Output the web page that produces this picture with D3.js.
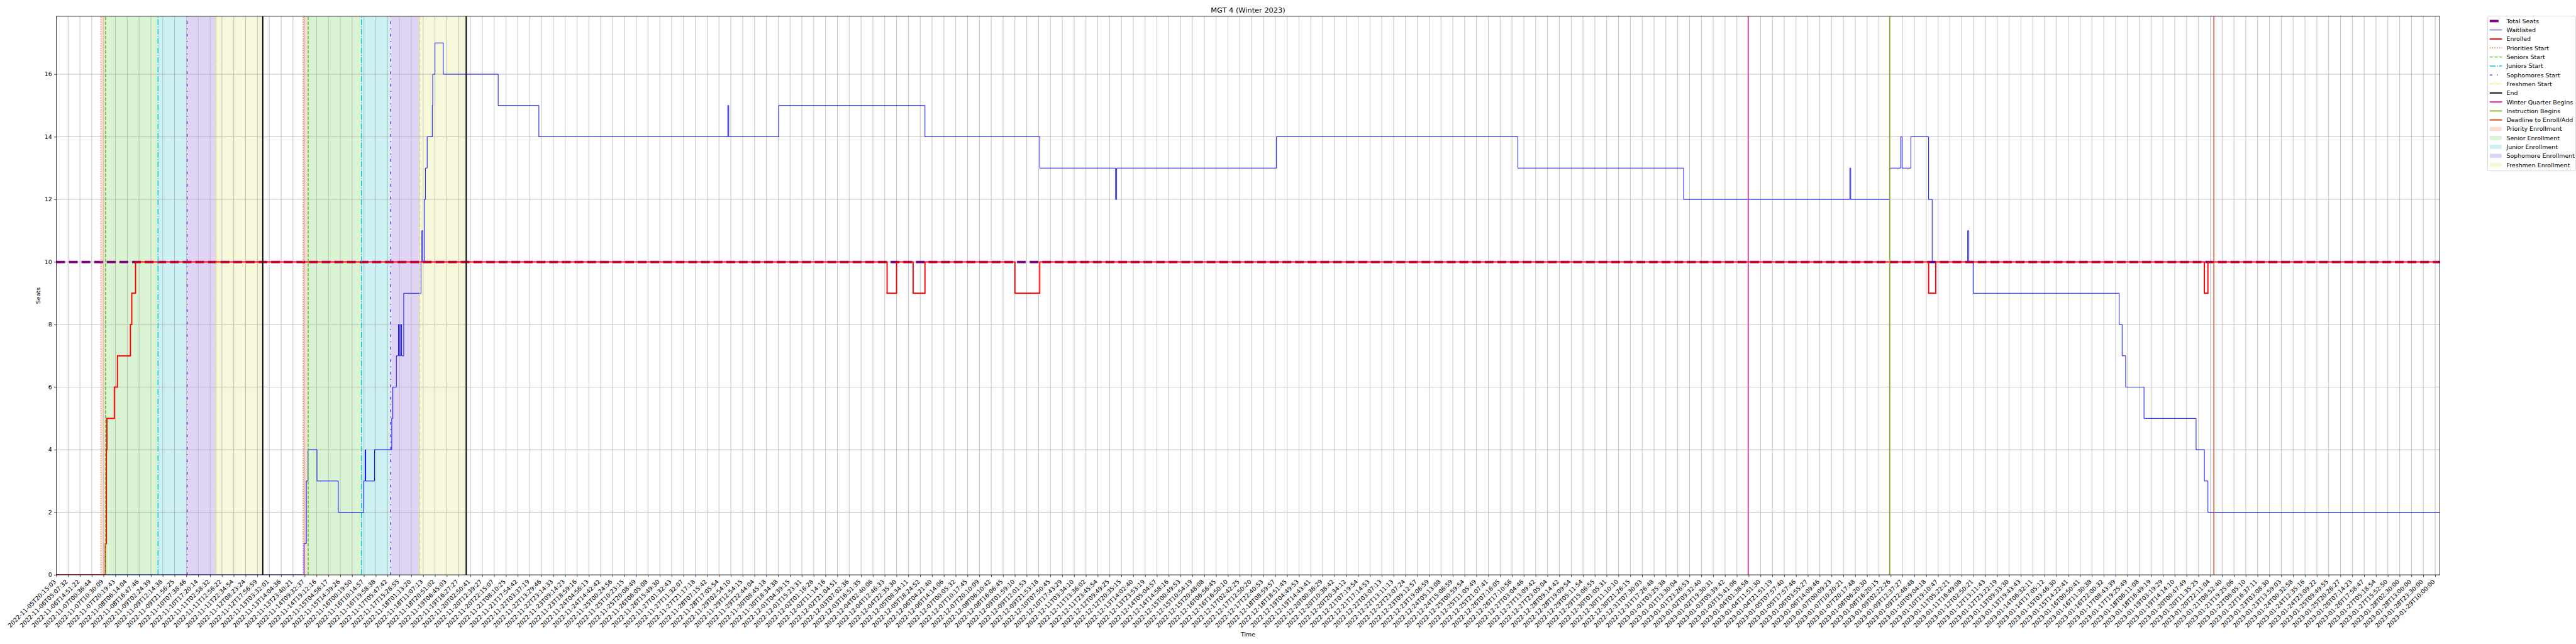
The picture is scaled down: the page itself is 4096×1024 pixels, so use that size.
<!DOCTYPE html>
<html><head><meta charset="utf-8">
<script src="https://cdn.jsdelivr.net/npm/d3@7"></script>
<style>
html,body{margin:0;padding:0;background:#fff;}
svg{display:block;}
text{font-family:"DejaVu Sans",sans-serif;fill:#000;}
</style></head>
<body>
<script>
// ---------------- DATA ----------------
const chartTitle = "MGT 4 (Winter 2023)";
const tickLabels = [
"2022-11-05T20:15:03","2022-11-06T05:07:32","2022-11-06T14:51:22","2022-11-07T00:36:44","2022-11-07T10:30:09",
"2022-11-07T20:19:43","2022-11-08T06:14:04","2022-11-08T16:47:46","2022-11-09T02:24:39","2022-11-09T12:14:38",
"2022-11-09T21:56:25","2022-11-10T07:38:46","2022-11-10T17:20:14","2022-11-11T02:58:32","2022-11-11T12:56:22",
"2022-11-11T22:34:54","2022-11-12T08:23:24","2022-11-12T17:56:59","2022-11-13T03:32:01","2022-11-13T14:04:36",
"2022-11-13T23:40:21","2022-11-14T09:32:37","2022-11-14T19:12:16","2022-11-15T04:58:17","2022-11-15T14:39:26",
"2022-11-16T00:19:50","2022-11-16T10:14:57","2022-11-16T19:58:38","2022-11-17T05:47:42","2022-11-17T15:28:55",
"2022-11-18T01:13:20","2022-11-18T11:07:13","2022-11-18T20:51:02","2022-11-19T06:45:03","2022-11-19T16:27:27",
"2022-11-20T02:50:41","2022-11-20T12:39:27","2022-11-20T22:15:07","2022-11-21T08:10:25","2022-11-21T17:54:42",
"2022-11-22T03:37:19","2022-11-22T13:29:46","2022-11-22T23:14:33","2022-11-23T09:14:23","2022-11-23T18:59:16",
"2022-11-24T04:56:13","2022-11-24T14:42:42","2022-11-25T00:24:56","2022-11-25T10:23:15","2022-11-25T20:08:49",
"2022-11-26T06:05:08","2022-11-26T15:49:30","2022-11-27T01:32:43","2022-11-27T11:32:07","2022-11-27T21:17:18",
"2022-11-28T07:15:42","2022-11-28T17:05:54","2022-11-29T02:54:10","2022-11-29T12:54:15","2022-11-29T22:44:04",
"2022-11-30T08:45:18","2022-11-30T18:34:38","2022-12-01T04:39:15","2022-12-01T15:23:31","2022-12-02T01:16:28",
"2022-12-02T11:14:16","2022-12-02T21:04:51","2022-12-03T07:02:36","2022-12-03T16:51:35","2022-12-04T02:40:06",
"2022-12-04T12:46:33","2022-12-04T22:35:30","2022-12-05T08:34:11","2022-12-05T18:24:52","2022-12-06T04:21:40",
"2022-12-06T14:14:06","2022-12-07T00:05:32","2022-12-07T10:17:45","2022-12-07T20:10:09","2022-12-08T06:10:42",
"2022-12-08T16:06:45","2022-12-09T01:59:10","2022-12-09T12:01:53","2022-12-09T21:53:18","2022-12-10T07:50:45",
"2022-12-10T17:43:29","2022-12-11T03:34:10","2022-12-11T13:36:02","2022-12-11T23:45:54","2022-12-12T09:49:25",
"2022-12-12T20:35:15","2022-12-13T14:02:40","2022-12-13T23:53:19","2022-12-14T05:04:57","2022-12-14T14:58:16",
"2022-12-15T00:49:53","2022-12-15T10:54:19","2022-12-15T20:48:08","2022-12-16T06:56:45","2022-12-16T16:50:10",
"2022-12-17T02:42:25","2022-12-17T12:50:20","2022-12-17T22:40:53","2022-12-18T08:59:57","2022-12-18T18:51:45",
"2022-12-19T04:49:53","2022-12-19T14:43:41","2022-12-20T00:36:29","2022-12-20T10:38:42","2022-12-20T20:34:12",
"2022-12-21T07:19:54","2022-12-21T17:14:53","2022-12-22T03:07:13","2022-12-22T13:11:13","2022-12-22T23:07:24",
"2022-12-23T09:12:57","2022-12-23T19:06:59","2022-12-24T05:13:08","2022-12-24T15:06:59","2022-12-25T00:59:54",
"2022-12-25T11:05:49","2022-12-25T21:07:41","2022-12-26T07:16:05","2022-12-26T17:10:56","2022-12-27T03:04:46",
"2022-12-27T13:09:42","2022-12-27T23:05:04","2022-12-28T09:14:42","2022-12-28T19:09:54","2022-12-29T05:11:54",
"2022-12-29T15:06:55","2022-12-30T01:05:31","2022-12-30T11:10:10","2022-12-30T21:26:15","2022-12-31T07:30:03",
"2022-12-31T17:26:48","2023-01-01T03:25:38","2023-01-01T13:30:04","2023-01-01T23:26:53","2023-01-02T09:32:40",
"2023-01-02T19:30:31","2023-01-03T05:39:42","2023-01-03T15:41:06","2023-01-04T01:38:58","2023-01-04T11:51:30",
"2023-01-04T21:51:19","2023-01-05T07:57:40","2023-01-05T17:57:46","2023-01-06T03:55:27","2023-01-06T14:09:46",
"2023-01-07T00:09:23","2023-01-07T10:20:21","2023-01-07T20:17:48","2023-01-08T06:20:30","2023-01-08T16:20:15",
"2023-01-09T02:22:26","2023-01-09T12:37:27","2023-01-09T22:48:48","2023-01-10T09:04:18","2023-01-10T19:10:47",
"2023-01-11T05:22:21","2023-01-11T16:49:08","2023-01-12T02:50:21","2023-01-12T13:11:43","2023-01-12T23:22:19",
"2023-01-13T09:33:30","2023-01-13T19:43:43","2023-01-14T06:32:11","2023-01-14T17:05:12","2023-01-15T03:46:30",
"2023-01-15T14:22:41","2023-01-16T00:50:41","2023-01-16T11:30:38","2023-01-16T22:00:32","2023-01-17T08:43:39",
"2023-01-17T19:25:49","2023-01-18T06:11:08","2023-01-18T16:49:19","2023-01-19T03:19:29","2023-01-19T14:14:10",
"2023-01-20T00:47:49","2023-01-20T11:35:25","2023-01-20T22:11:04","2023-01-21T08:52:40","2023-01-21T19:25:06",
"2023-01-22T06:05:10","2023-01-22T16:37:11","2023-01-23T03:08:30","2023-01-23T13:59:03","2023-01-24T00:32:58",
"2023-01-24T12:35:16","2023-01-24T23:09:22","2023-01-25T09:49:55","2023-01-25T20:26:27","2023-01-26T07:14:23",
"2023-01-26T17:58:47","2023-01-27T05:18:54","2023-01-27T15:52:50","2023-01-28T02:30:00","2023-01-28T13:00:00",
"2023-01-28T23:30:00","2023-01-29T10:00:00"
];
const xEndIndex = 201.4;          // last sample position (in tick units)
const yTicks = [0,2,4,6,8,10,12,14,16];
const yMax = 17.85;

const totalSeats = 10;
// step series: [position (tick units), value]
const enrolled = [
  [0,0],[4.15,1],[4.24,4],[4.28,5],[4.91,6],[5.17,7],[6.27,8],[6.38,9],[6.70,10],
  [70.2,9],[71.0,10],[72.4,9],[73.4,10],[81.0,9],[83.1,10],
  [158.2,9],[158.8,10],[181.5,9],[181.8,10]
];
const waitlisted = [
  [0,0],[20.93,1],[21.13,3],[21.27,4],[22.03,3],[23.83,2],[25.98,3],[26.10,4],[26.15,3],
  [26.89,4],[28.35,5],[28.44,6],[28.74,7],[28.91,8],[29.0,7],[29.09,8],[29.18,7],[29.36,9],
  [30.82,10],[30.89,11],[30.96,10],[31.10,12],[31.19,13],[31.34,14],[31.77,15],[31.81,16],
  [32.0,17],[32.7,16],[37.34,15],[40.78,14],[56.74,15],[56.82,14],[61.05,15],[73.4,14],
  [83.1,13],[89.5,12],[89.6,13],[103.1,14],[123.5,13],[137.5,12],[151.55,13],[151.62,12],
  [154.9,13],[155.85,14],[155.95,13],[156.7,14],[158.2,12],[158.5,10],[161.5,11],[161.6,10],
  [161.96,9],[174.3,8],[174.55,7],[174.85,6],[176.4,5],[180.8,4],[181.5,3],[181.8,2]
];
const priorityStarts  = [3.77, 20.86];
const seniorStarts    = [4.17, 21.29];
const juniorStarts    = [8.60, 25.79];
const sophomoreStarts = [11.06, 28.26];
const freshmenStarts  = [13.52, 30.72];
const periodEnds      = [17.45, 34.64];
const winterQuarterBegins = 142.95;
const instructionBegins   = 154.9;
const enrollDeadline      = 182.3;

// ---------------- LAYOUT (reference pixel space 6000x1500) ----------------
const W = 6000, H = 1500, S = 4096/6000;
const plot = {left:131, right:5683, top:38, bottom:1339};
const PT = 100/72;  // px per point at reference dpi

const svg = d3.select("body").append("svg")
  .attr("width", 4096).attr("height", 1024);
const root = svg.append("g").attr("transform", `scale(${S})`);
root.append("rect").attr("width", W).attr("height", H).attr("fill", "#fff");

const x = d3.scaleLinear().domain([0, xEndIndex]).range([plot.left, plot.right]);
const y = d3.scaleLinear().domain([0, yMax]).range([plot.bottom, plot.top]);

root.append("clipPath").attr("id","clip").append("rect")
  .attr("x", plot.left).attr("y", plot.top)
  .attr("width", plot.right-plot.left).attr("height", plot.bottom-plot.top);

const C = {
  seats:"#800080", wait:"#0000ff", enr:"#ff0000",
  prio:"#ee6a30", senior:"#3cc81a", junior:"#00c6d4", soph:"#6a22dc", fresh:"#e0e020",
  end:"#000000", winter:"#e0189c", instr:"#8db41e", deadline:"#d0421e",
  prioFill:"#f8ddd1", seniorFill:"#daf4d3", juniorFill:"#cdf0f2", sophFill:"#e0d4f4", freshFill:"#f6f8d9"
};

const plotG = root.append("g").attr("clip-path","url(#clip)");

// spans
const spans = [
  [priorityStarts, seniorStarts, C.prioFill],
  [seniorStarts, juniorStarts, C.seniorFill],
  [juniorStarts, sophomoreStarts, C.juniorFill],
  [sophomoreStarts, freshmenStarts, C.sophFill],
  [freshmenStarts, periodEnds, C.freshFill]
];
spans.forEach(([a,b,col]) => {
  a.forEach((s,i) => {
    plotG.append("rect").attr("x", x(s)).attr("y", plot.top)
      .attr("width", x(b[i]) - x(s)).attr("height", plot.bottom-plot.top)
      .attr("fill", col);
  });
});

// grid
const gridCol = "#b0b0b0", gridW = 0.8*PT;
const tickIdx = d3.range(tickLabels.length).filter(i => i <= xEndIndex);
plotG.selectAll("line.gx").data(tickIdx).join("line")
  .attr("x1", d=>x(d)).attr("x2", d=>x(d)).attr("y1", plot.top).attr("y2", plot.bottom)
  .attr("stroke", gridCol).attr("stroke-width", gridW);
plotG.selectAll("line.gy").data(yTicks).join("line")
  .attr("x1", plot.left).attr("x2", plot.right).attr("y1", d=>y(d)).attr("y2", d=>y(d))
  .attr("stroke", gridCol).attr("stroke-width", gridW);

// series
const stepLine = d3.line().x(d=>x(d[0])).y(d=>y(d[1])).curve(d3.curveStepAfter);
const extend = arr => arr.concat([[xEndIndex, arr[arr.length-1][1]]]);

plotG.append("path").datum([[0,totalSeats],[xEndIndex,totalSeats]])
  .attr("d", stepLine).attr("fill","none").attr("stroke", C.seats)
  .attr("stroke-width", 4*PT).attr("stroke-dasharray", `${3.7*4*PT},${1.6*4*PT}`);
plotG.append("path").datum(extend(waitlisted))
  .attr("d", stepLine).attr("fill","none").attr("stroke", C.wait).attr("stroke-width", 1*PT);
plotG.append("path").datum(extend(enrolled))
  .attr("d", stepLine).attr("fill","none").attr("stroke", C.enr).attr("stroke-width", 2*PT);

// event lines
const lw15 = 1.5*PT, lw1 = 1*PT;
const styles = {
  prio:  {c:C.prio,  w:lw15, d:[1*lw15,1.65*lw15]},
  senior:{c:C.senior,w:lw15, d:[3.7*lw15,1.6*lw15]},
  junior:{c:C.junior,w:lw15, d:[6.4*lw15,1.6*lw15,1*lw15,1.6*lw15]},
  soph:  {c:C.soph,  w:lw15, d:[3*lw15,5*lw15,1*lw15,5*lw15]},
  fresh: {c:C.fresh, w:lw1,  d:[6.4*lw1,1.6*lw1,1*lw1,1.6*lw1]},
  end:   {c:C.end,   w:2*PT, d:null},
  winter:{c:C.winter,w:lw15, d:null},
  instr: {c:C.instr, w:lw15, d:null},
  deadline:{c:C.deadline,w:lw15,d:null}
};
function vline(pos, st){
  const l = plotG.append("line").attr("x1", x(pos)).attr("x2", x(pos))
    .attr("y1", plot.bottom).attr("y2", plot.top)
    .attr("stroke", st.c).attr("stroke-width", st.w);
  if (st.d) l.attr("stroke-dasharray", st.d.join(","));
}
priorityStarts.forEach(p=>vline(p, styles.prio));
seniorStarts.forEach(p=>vline(p, styles.senior));
juniorStarts.forEach(p=>vline(p, styles.junior));
sophomoreStarts.forEach(p=>vline(p, styles.soph));
freshmenStarts.forEach(p=>vline(p, styles.fresh));
periodEnds.forEach(p=>vline(p, styles.end));
vline(winterQuarterBegins, styles.winter);
vline(instructionBegins, styles.instr);
vline(enrollDeadline, styles.deadline);

// axes
const fs = 10*PT;
const xAxis = d3.axisBottom(x).tickValues(tickIdx).tickFormat(i=>tickLabels[i])
  .tickSize(3.5*PT).tickPadding(3.5*PT).tickSizeOuter(0);
const gx = root.append("g").attr("transform", `translate(0,${plot.bottom})`).call(xAxis);
gx.select(".domain").remove();
gx.selectAll(".tick line").attr("stroke","#000").attr("stroke-width",0.8*PT);
gx.selectAll(".tick text")
  .attr("font-size", fs).attr("font-family","DejaVu Sans").attr("fill","#000")
  .attr("text-anchor","end").attr("x",0).attr("y",0).attr("dy","0.35em")
  .attr("transform", `translate(-3.6,${3.5*PT+3.5*PT+3.6}) rotate(-45)`);

const yAxis = d3.axisLeft(y).tickValues(yTicks).tickFormat(d3.format("d"))
  .tickSize(3.5*PT).tickPadding(3.5*PT).tickSizeOuter(0);
const gy = root.append("g").attr("transform", `translate(${plot.left},0)`).call(yAxis);
gy.select(".domain").remove();
gy.selectAll(".tick line").attr("stroke","#000").attr("stroke-width",0.8*PT);
gy.selectAll(".tick text").attr("font-size", fs).attr("font-family","DejaVu Sans").attr("fill","#000");

// frame
root.append("rect").attr("x", plot.left).attr("y", plot.top)
  .attr("width", plot.right-plot.left).attr("height", plot.bottom-plot.top)
  .attr("fill","none").attr("stroke","#000").attr("stroke-width",0.8*PT);

// titles
root.append("text").attr("x",(plot.left+plot.right)/2).attr("y",29)
  .attr("text-anchor","middle").attr("font-size",12*PT).text(chartTitle);
root.append("text").attr("x",(plot.left+plot.right)/2).attr("y",1482)
  .attr("text-anchor","middle").attr("font-size",fs).text("Time");
root.append("text").attr("transform",`translate(94,${(plot.top+plot.bottom)/2}) rotate(-90)`)
  .attr("text-anchor","middle").attr("font-size",fs).text("Seats");

// legend
const legendItems = [
  {label:"Total Seats", type:"line", c:C.seats, w:4*PT, d:[3.7*4*PT,1.6*4*PT]},
  {label:"Waitlisted", type:"line", c:C.wait, w:1*PT},
  {label:"Enrolled", type:"line", c:C.enr, w:2*PT},
  {label:"Priorities Start", type:"line", c:C.prio, w:styles.prio.w, d:styles.prio.d},
  {label:"Seniors Start", type:"line", c:C.senior, w:styles.senior.w, d:styles.senior.d},
  {label:"Juniors Start", type:"line", c:C.junior, w:styles.junior.w, d:styles.junior.d},
  {label:"Sophomores Start", type:"line", c:C.soph, w:styles.soph.w, d:styles.soph.d},
  {label:"Freshmen Start", type:"line", c:C.fresh, w:styles.fresh.w, d:styles.fresh.d},
  {label:"End", type:"line", c:C.end, w:2*PT},
  {label:"Winter Quarter Begins", type:"line", c:C.winter, w:2*PT},
  {label:"Instruction Begins", type:"line", c:C.instr, w:2*PT},
  {label:"Deadline to Enroll/Add", type:"line", c:C.deadline, w:2*PT},
  {label:"Priority Enrollment", type:"patch", c:C.prioFill},
  {label:"Senior Enrollment", type:"patch", c:C.seniorFill},
  {label:"Junior Enrollment", type:"patch", c:C.juniorFill},
  {label:"Sophomore Enrollment", type:"patch", c:C.sophFill},
  {label:"Freshmen Enrollment", type:"patch", c:C.freshFill}
];
const lg = root.append("g");
lg.append("rect").attr("x",5794).attr("y",37.5).attr("width",205).attr("height",360.5)
  .attr("rx",3).attr("fill","#fff").attr("fill-opacity",0.8)
  .attr("stroke","#cccccc").attr("stroke-width",0.8*PT);
legendItems.forEach((it,i)=>{
  const cy = 49 + i*20.94;
  if (it.type==="line"){
    const l = lg.append("line").attr("x1",5799).attr("x2",5827.8).attr("y1",cy).attr("y2",cy)
      .attr("stroke",it.c).attr("stroke-width",it.w);
    if (it.d) l.attr("stroke-dasharray", it.d.join(","));
  } else {
    lg.append("rect").attr("x",5799).attr("y",cy-4.9).attr("width",27.8).attr("height",9.7)
      .attr("fill",it.c);
  }
  lg.append("text").attr("x",5838).attr("y",cy).attr("dy","0.36em")
    .attr("font-size",fs).text(it.label);
});
</script>
</body></html>
